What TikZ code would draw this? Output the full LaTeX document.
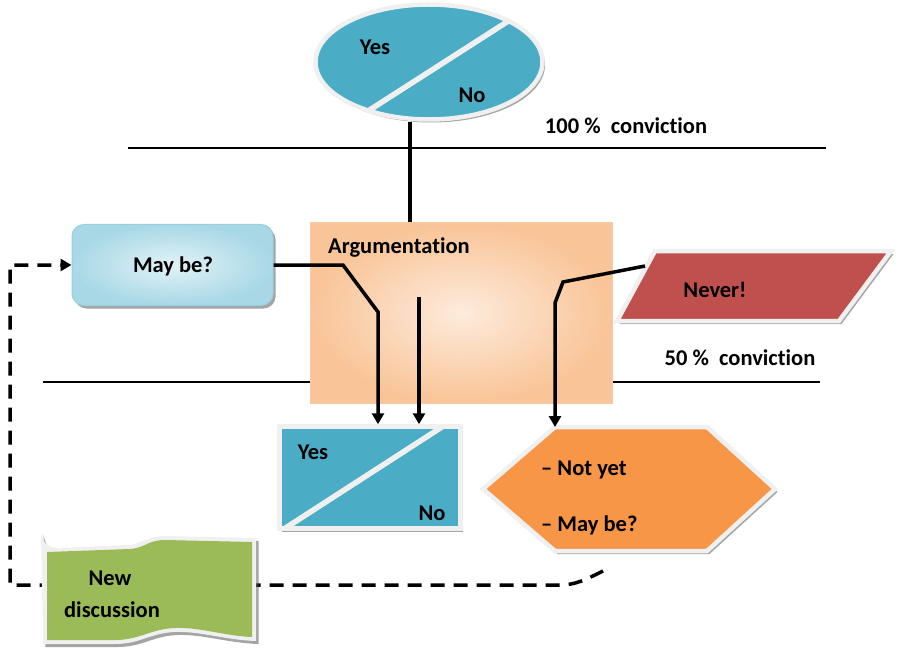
\documentclass[tikz,border=0pt]{standalone}
\usepackage{fontspec}
\setmainfont{Carlito}[RawFeature=-liga]
\usetikzlibrary{shapes.geometric,shadows,arrows.meta}
\definecolor{cteal}{HTML}{4BACC6}
\definecolor{cred}{HTML}{C0504D}
\definecolor{corange}{HTML}{F79646}
\definecolor{cgreen}{HTML}{9BBB59}
\definecolor{outl}{HTML}{F0F0F0}
\definecolor{argin}{HTML}{FDEBDC}
\definecolor{argout}{HTML}{F9C497}
\definecolor{argline}{HTML}{F8C9A2}
\definecolor{mbin}{HTML}{E2F2F7}
\definecolor{mbout}{HTML}{A8D8E6}
\definecolor{mbline}{HTML}{9ACFDD}
\begin{document}
\begin{tikzpicture}[x=1pt,y=-1pt,
  txt/.style={font=\fontsize{22.5}{27}\selectfont\bfseries, inner sep=0pt, text=black},
  outline/.style={draw=outl, line width=4.5pt, line join=miter},
  shd/.style={drop shadow={shadow xshift=2.5pt, shadow yshift=-3pt, opacity=0.55, fill=black!65}},
  conn/.style={line width=3.5pt, line join=miter},
  arr/.style={conn, -{Triangle[width=12pt,length=11pt]}},
  dashconn/.style={line width=3.5pt, dash pattern=on 14pt off 9pt},
  level/.style={line width=2.2pt}
]
\useasboundingbox (0,0) rectangle (901,652);

% level lines
\coordinate (l1a) at (128,148);
\coordinate (l1b) at (826,148);
\coordinate (l2a) at (43,382);
\coordinate (l2b) at (820,382);
\draw[level] (l1a) -- (l1b);
\draw[level] (l2a) -- (l2b);

% dashed feedback loop points
\coordinate (dstart) at (603,571);
\coordinate (dbend) at (560,585);
\coordinate (dcorner1) at (10,585);
\coordinate (dcorner2) at (10,265);

% top ellipse
\node[ellipse, fill=cteal, outline, shd, minimum width=227pt, minimum height=115pt] (topell) at (429,62) {};
\begin{scope}
  \clip (429,62) ellipse [x radius=111.5pt, y radius=55.5pt];
  \draw[outl, line width=5.5pt] (340,129) -- (524,11);
\end{scope}
\node[txt] (topyes) at (375,47) {Yes};
\node[txt] (topno) at (472,95) {No};
\node[txt] (c100) at (626,126) {100 \%~ conviction};

% Argumentation box
\node[rectangle, draw=argline, line width=1pt, inner color=argin, outer color=argout, minimum width=302pt, minimum height=180pt] (arg) at (461.5,313) {};
\node[txt, anchor=west] (argtxt) at (328,248) {Argumentation};
\draw[conn] (topell.south -| 410,0) -- (arg.north -| 410,0);

% May be box
\node[rectangle, rounded corners=12pt, draw=mbline, line width=1pt, inner color=mbin, outer color=mbout, shd, minimum width=201pt, minimum height=81pt] (maybe) at (172.5,265) {};
\node[txt] (maybetxt) at (173,266) {May be?};

% Never parallelogram
\path[fill=cred, outline, shd] (655,251) -- (891,251) -- (839,321) -- (617,321) -- cycle;
\coordinate (neverleft) at (645,266);
\node[txt] (never) at (715,290) {Never!};
\node[txt] (c50) at (740,358) {50 \%~ conviction};

% Yes/No rectangle
\node[rectangle, fill=cteal, outline, shd, minimum width=181pt, minimum height=102pt] (ynbox) at (370,477.5) {};
\begin{scope}
  \clip (279.5,426.5) rectangle (460.5,528.5);
  \draw[outl, line width=5.5pt] (270,538) -- (462,414);
\end{scope}
\node[txt] (ynyes) at (313,452) {Yes};
\node[txt] (ynno) at (432,513) {No};

% hexagon
\coordinate (hexTL) at (555,427);
\path[fill=corange, outline, shd] (483,489) -- (hexTL) -- (707,427) -- (775,489) -- (707,551) -- (555,551) -- cycle;
\node[txt, anchor=west] (notyet) at (541,470) {– Not yet};
\node[txt, anchor=west] (maybe2) at (541,525) {– May be?};

% connectors into the Yes/No box and hexagon
\coordinate (a2start) at (419,297);
\draw[arr] (maybe.east) -- (343,265) -- (378,312) -- (378,312 |- ynbox.north);
\draw[arr] (a2start) -- (a2start |- ynbox.north);
\draw[arr] (neverleft) -- (563,282) -- (555,303) -- (hexTL);

% dashed loop
\draw[dashconn, -{Triangle[width=12pt,length=11pt]}] (dstart) .. controls (585,580) and (575,585) .. (dbend) -- (dcorner1) -- (dcorner2) -- (maybe.west);

% New discussion flag
\path[fill=outl, shd] (41,531) .. controls (43,545) and (48,547) .. (60,548) -- (128,545) .. controls (143,544) and (146,536) .. (165,536) -- (256,538) -- (256,641) .. controls (225,640) and (200,631) .. (175,632) .. controls (150,633) and (140,644) .. (115,644) -- (43,644) -- cycle;
\path[fill=cgreen] (47,552) -- (130,549) .. controls (145,548) and (148,540) .. (165,540) -- (252,542) -- (252,637) .. controls (225,636) and (200,627) .. (175,628) .. controls (150,629) and (140,640) .. (115,640) -- (47,640) -- cycle;
\node[txt] (newtxt) at (110,578) {New};
\node[txt] (disctxt) at (112,610) {discussion};
\end{tikzpicture}
\end{document}
